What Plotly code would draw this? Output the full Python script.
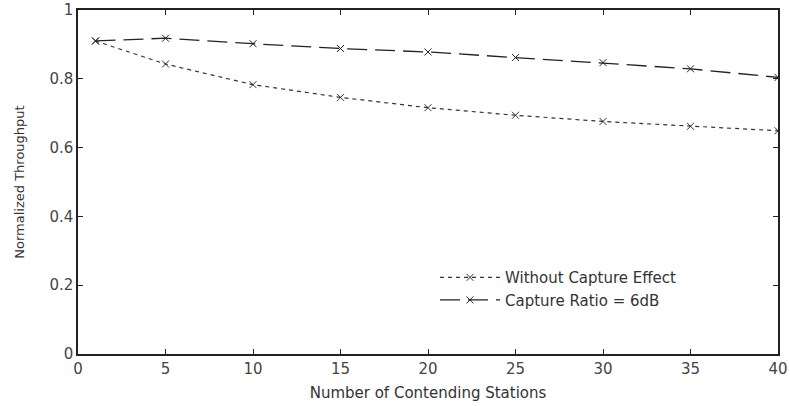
import plotly.graph_objects as go

stations = [1, 5, 10, 15, 20, 25, 30, 35, 40]
without_capture = [0.91, 0.843, 0.783, 0.746, 0.716, 0.694, 0.676, 0.662, 0.649]
capture_6db = [0.91, 0.918, 0.902, 0.888, 0.878, 0.862, 0.847, 0.829, 0.804]
x_ticks = [0, 5, 10, 15, 20, 25, 30, 35, 40]
y_ticks = [0, 0.2, 0.4, 0.6, 0.8, 1]

FONT = "DejaVu Sans, Verdana, sans-serif"

fig = go.Figure()
fig.add_trace(go.Scatter(
    x=stations, y=without_capture, mode="lines+markers",
    name="Without Capture Effect",
    line=dict(color="#333333", width=1.2, dash="4px,4px"),
    marker=dict(symbol="x-thin-open", size=7, line=dict(color="#222222", width=1)),
))
fig.add_trace(go.Scatter(
    x=stations, y=capture_6db, mode="lines+markers",
    name="Capture Ratio = 6dB",
    line=dict(color="#222222", width=1.3, dash="20px,8px"),
    marker=dict(symbol="x-thin-open", size=7, line=dict(color="#111111", width=1)),
))

axis_common = dict(
    showline=True, linecolor="#222222", linewidth=1.5, mirror="ticks",
    ticks="inside", ticklen=5, tickcolor="#222222", showgrid=False, zeroline=False,
    automargin=False,
    tickfont=dict(family=FONT, size=15, color="#444444"),
)
fig.update_xaxes(range=[0, 40], tickvals=x_ticks, **axis_common,
                 title=dict(text="Number of Contending Stations", standoff=11,
                            font=dict(family=FONT, size=15, color="#333333")))
fig.update_yaxes(range=[0, 1], tickvals=y_ticks, **axis_common,
                 title=dict(text="Normalized Throughput", standoff=22,
                            font=dict(family=FONT, size=13, color="#333333")))

fig.update_layout(
    width=790, height=406,
    margin=dict(l=78, r=12, t=10, b=52),
    paper_bgcolor="white", plot_bgcolor="white",
    legend=dict(x=0.51, y=0.27, xanchor="left", yanchor="top",
                bgcolor="rgba(0,0,0,0)", borderwidth=0, itemwidth=60,
                font=dict(family=FONT, size=15, color="#333333"),
                tracegroupgap=0),
)

# remove the default page margin so the figure fills the 790x406 window exactly
fig.write_html("out.html", config={"displayModeBar": False},
               post_script="document.body.style.margin='0';document.body.style.overflow='hidden';")
